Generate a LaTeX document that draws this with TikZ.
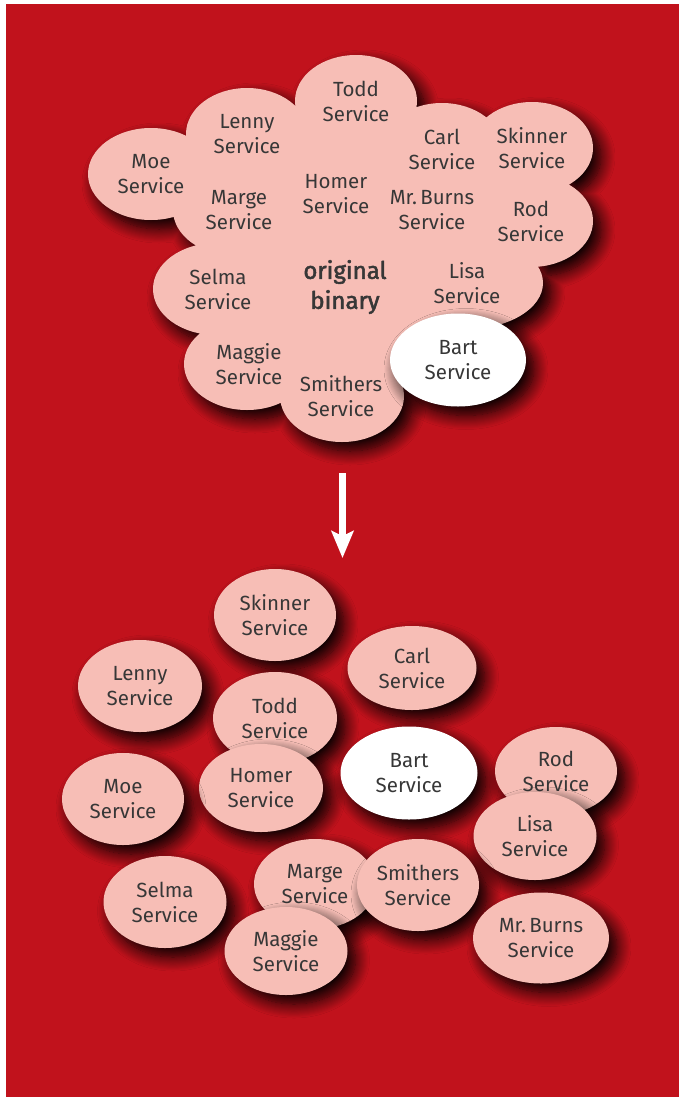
\documentclass[tikz,border=0pt]{standalone}
\usepackage{fontspec}
\setmainfont{Fira Sans}
\newfontfamily\binfont{Fira Sans}[FakeBold=2.2]
\usepackage{tikz}
\usetikzlibrary{arrows.meta,shapes.geometric,shadows.blur}
\definecolor{bgred}{RGB}{193,18,28}
\definecolor{svcpink}{RGB}{247,190,182}
\definecolor{svctext}{RGB}{55,55,55}

\begin{document}
\begin{tikzpicture}[
    x=1pt,y=-1pt,
    every node/.style={font=\fontsize{20.5}{25}\selectfont,text=svctext,align=center,inner sep=0pt},
    svc/.style={ellipse,fill=svcpink,minimum width=122pt,minimum height=92pt},
    hot/.style={svc,fill=white,minimum width=136pt,minimum height=93pt},
    shade/.style={blur shadow={shadow xshift=8pt,shadow yshift=-9pt,shadow blur radius=14pt,shadow blur steps=14,shadow opacity=100}},
    move/.style={draw=white,line width=7pt,-{Stealth[length=27pt,width=22pt,inset=5pt]}}
  ]
  \useasboundingbox (0,0) rectangle (683,1100);
  \fill[bgred] (6,4) rectangle (679,1097);

  % one binary: the cloud is drawn as one shape, the names on top
  \fill[svcpink,shade] (151,174) ellipse (63 and 46) (247,134) ellipse (61 and 46)
    (356,101) ellipse (61 and 46) (442,149) ellipse (61 and 46)
    (532,148) ellipse (61 and 46) (531,221) ellipse (62 and 46)
    (467,283) ellipse (76 and 46) (216,289) ellipse (63 and 46)
    (247,364) ellipse (63 and 46) (342,396) ellipse (62 and 46)
    (236,210) ellipse (63 and 46) (336,194) ellipse (61 and 46)
    (432,210) ellipse (65 and 46);
  \fill[svcpink] (151,174) -- (247,134) -- (356,101) -- (442,149) -- (532,148)
    -- (531,221) -- (467,283) -- (458,360) -- (342,396) -- (247,364)
    -- (216,289) -- (236,210) -- cycle;
  \node (Moe1) at (151,174) {Moe\\Service};
  \node (Lenny1) at (247,134) {Lenny\\Service};
  \node (Todd1) at (356,101) {Todd\\Service};
  \node (Carl1) at (442,149) {Carl\\Service};
  \node (Skinner1) at (532,148) {Skinner\\Service};
  \node (Rod1) at (531,221) {Rod\\Service};
  \node (Marge1) at (239,210) {Marge\\Service};
  \node (Homer1) at (336,194) {Homer\\Service};
  \node (Burns1) at (432,210) {Mr.\,Burns\\Service};
  \node (Lisa1) at (467,283) {Lisa\\Service};
  \node (Selma1) at (218,289) {Selma\\Service};
  \node (Maggie1) at (249,364) {Maggie\\Service};
  \node (Smithers1) at (341,396) {Smithers\\Service};
  \node[font=\fontsize{24}{30}\binfont] (Bin) at (345,287) {original\\binary};
  \node[hot,shade] (Bart1) at (458,360) {Bart\\Service};

  \coordinate (from) at (342.5,473);
  \coordinate (to) at (342.5,558);
  \draw[move] (from) -- (to);

  % split into services
  \node[svc,shade] (Skinner2) at (275,615) {Skinner\\Service};
  \node[svc,shade,minimum width=129pt,minimum height=84pt] (Carl2) at (412,668) {Carl\\Service};
  \node[svc,shade,minimum width=124pt] (Lenny2) at (140,686) {Lenny\\Service};
  \node[svc,shade,minimum width=124pt] (Todd2) at (275,718) {Todd\\Service};
  \node[svc,shade,minimum width=124pt,minimum height=88pt] (Homer2) at (261,788) {Homer\\Service};
  \node[hot,shade,minimum width=137pt] (Bart2) at (409,773) {Bart\\Service};
  \node[svc,shade,minimum width=122pt] (Moe2) at (123,799) {Moe\\Service};
  \node[svc,shade,minimum height=88pt] (Rod2) at (556,771) {Rod\\Service};
  \node[svc,shade,minimum width=123pt,minimum height=88pt] (Lisa2) at (535,836) {Lisa\\Service};
  \node[svc,shade,minimum width=123pt] (Selma2) at (165,902) {Selma\\Service};
  \node[svc,shade,minimum height=90pt] (Marge2) at (315,884) {Marge\\Service};
  \node[svc,shade,minimum width=122pt] (Smithers2) at (418,885) {Smithers\\Service};
  \node[svc,shade,minimum width=123pt,minimum height=88pt] (Maggie2) at (286,951) {Maggie\\Service};
  \node[svc,shade,minimum width=136pt,minimum height=91pt] (Burns2) at (541,938) {Mr.\,Burns\\Service};
\end{tikzpicture}
\end{document}
